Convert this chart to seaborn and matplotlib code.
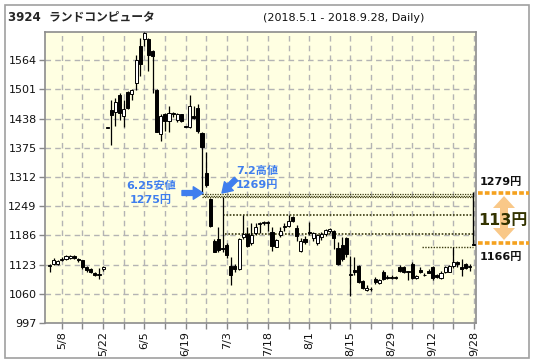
import matplotlib
matplotlib.use("Agg")
import matplotlib.pyplot as plt
import seaborn as sns
import numpy as np
import pandas as pd
from matplotlib.patches import Polygon, Rectangle
from matplotlib.lines import Line2D

# ---------------- data ----------------
holidays = ["2018-05-03", "2018-05-04", "2018-07-16", "2018-09-17", "2018-09-24"]
dates = pd.bdate_range("2018-05-01", "2018-09-28", freq="C", holidays=holidays)

opens = [1121, 1124, 1125, 1133, 1136, 1138, 1141, 1136, 1133, 1117, 1114, 1104, 1101, 1113,
         1418, 1456, 1452, 1490, 1444, 1496, 1491, 1516, 1594, 1610, 1609, 1584, 1500, 1405,
         1447, 1432, 1451, 1435, 1447, 1421, 1421, 1443, 1461, 1407, 1320, 1265, 1174, 1178,
         1158, 1165, 1120, 1120, 1114, 1182, 1190, 1169, 1192, 1211, 1212, 1214, 1193, 1162,
         1186, 1205, 1207, 1226, 1201, 1153, 1178, 1194, 1180, 1169, 1182, 1190, 1195, 1196,
         1159, 1165, 1180, 1100, 1112, 1120, 1088, 1068, 1070, 1093, 1084, 1107, 1097, 1097,
         1097, 1118, 1118, 1106, 1124, 1095, 1112, 1100, 1110, 1117, 1100, 1095, 1106, 1108,
         1119, 1128, 1118, 1124, 1118, 1167]
highs = [1124, 1138, 1134, 1140, 1144, 1143, 1143, 1137, 1134, 1119, 1115, 1106, 1115, 1120,
         1418, 1479, 1482, 1493, 1478, 1498, 1502, 1575, 1612, 1625, 1612, 1587, 1503, 1447,
         1450, 1465, 1453, 1450, 1449, 1423, 1489, 1466, 1470, 1410, 1366, 1267, 1178, 1205,
         1269, 1170, 1140, 1125, 1180, 1230, 1205, 1212, 1212, 1215, 1218, 1218, 1205, 1178,
         1205, 1212, 1230, 1228, 1209, 1181, 1184, 1214, 1194, 1190, 1194, 1200, 1202, 1198,
         1172, 1183, 1183, 1141, 1140, 1122, 1090, 1078, 1075, 1096, 1093, 1112, 1100, 1100,
         1099, 1122, 1120, 1110, 1128, 1100, 1118, 1105, 1114, 1120, 1102, 1110, 1120, 1122,
         1162, 1130, 1135, 1127, 1125, 1168]
lows = [1106, 1122, 1122, 1130, 1134, 1136, 1136, 1128, 1114, 1108, 1104, 1098, 1092, 1110,
        1418, 1381, 1422, 1436, 1421, 1458, 1478, 1500, 1530, 1595, 1540, 1494, 1409, 1390,
        1412, 1410, 1442, 1430, 1430, 1419, 1418, 1437, 1408, 1275, 1290, 1204, 1150, 1150,
        1150, 1138, 1080, 1108, 1112, 1178, 1160, 1166, 1186, 1192, 1208, 1196, 1152, 1160,
        1183, 1195, 1205, 1215, 1173, 1151, 1168, 1186, 1175, 1165, 1177, 1184, 1192, 1156,
        1122, 1130, 1140, 1055, 1100, 1084, 1070, 1065, 1066, 1082, 1082, 1090, 1093, 1091,
        1093, 1106, 1105, 1090, 1093, 1092, 1105, 1098, 1104, 1090, 1095, 1093, 1104, 1106,
        1115, 1118, 1099, 1113, 1110, 1165]
closes = [1122, 1133, 1131, 1136, 1141, 1142, 1138, 1133, 1117, 1112, 1107, 1100, 1103, 1118,
          1418, 1445, 1474, 1451, 1458, 1462, 1500, 1564, 1556, 1622, 1575, 1573, 1410, 1443,
          1432, 1450, 1449, 1447, 1432, 1420, 1466, 1440, 1412, 1377, 1295, 1206, 1151, 1154,
          1156, 1143, 1101, 1114, 1178, 1190, 1163, 1187, 1204, 1213, 1215, 1212, 1163, 1176,
          1195, 1207, 1218, 1218, 1184, 1175, 1172, 1192, 1191, 1187, 1190, 1197, 1200, 1180,
          1124, 1135, 1145, 1103, 1107, 1086, 1073, 1073, 1070, 1085, 1090, 1093, 1095, 1094,
          1094, 1109, 1108, 1110, 1095, 1099, 1107, 1100, 1105, 1095, 1097, 1105, 1118, 1120,
          1128, 1124, 1114, 1115, 1120, 1165]

tick_labels = ["5/8", "5/22", "6/5", "6/19", "7/3", "7/18", "8/1", "8/15", "8/29", "9/12", "9/28"]
y_ticks = [997, 1060, 1123, 1186, 1249, 1312, 1375, 1438, 1501, 1564]

gap_low_date, gap_low = "6.25", 1275
gap_high_date, gap_high = "7.2", 1269
other_gap_lines = [1230, 1190]
last_line = 1161
range_top, range_bottom = 1279, 1166
diff = range_top - range_bottom

df = pd.DataFrame({"date": dates, "open": opens, "high": highs, "low": lows, "close": closes})
df["i"] = np.arange(len(df))

# ---------------- style ----------------
sns.set_theme(style="white")
plt.rcParams["font.family"] = ["DejaVu Sans", "Noto Sans CJK JP"]

W, H = 535, 364
fig = plt.figure(figsize=(W / 100, H / 100), dpi=100)
fig.patch.set_facecolor("white")

def fx(x):
    return x / W

def fy(y):
    return 1 - y / H

ax = fig.add_axes([fx(45), fy(323), fx(476) - fx(45), fy(32) - fy(323)])
ax.set_facecolor("#FFFFE2")
ax.set_xlim(-1.1, 103.5)
ax.set_ylim(997, 1625)

# grid
grid_x = np.arange(3, 104, 5)
for gx in grid_x:
    ax.axvline(gx, color="#B4B4B4", lw=1, ls=(0, (4, 3)), zorder=1)
for gy in y_ticks[1:]:
    ax.axhline(gy, color="#B4B4B4", lw=1, ls=(0, (4, 3)), zorder=1)

# candles
up = df["close"] >= df["open"]
ax.vlines(df["i"], df["low"], df["high"], color="black", lw=0.9, zorder=3)
body_bottom = np.minimum(df["open"], df["close"])
body_h = np.maximum(np.abs(df["close"] - df["open"]), 1.2)
ax.bar(df["i"], body_h, bottom=body_bottom, width=0.75,
       color=np.where(up, "white", "black"), edgecolor="black", linewidth=0.7, zorder=4)

# gap band and lines
x_end = 102.8
band_col = "#3a3a10"
for yy, off in ((gap_low, 0), (gap_high + (gap_low - gap_high) / 2, 1), (gap_high, 0)):
    ax.hlines(yy, 37, x_end, color=band_col, lw=0.9, ls=(off, (1, 1)), zorder=2)
ax.hlines(other_gap_lines[0], 42, x_end, color=band_col, lw=1.2, ls=(0, (1, 1)), zorder=2)
ax.hlines(other_gap_lines[1], 42.5, x_end, color=band_col, lw=1.2, ls=(0, (1, 1)), zorder=2)
ax.hlines(last_line, 90.5, x_end, color=band_col, lw=1, ls=(0, (1, 1)), zorder=2)
ax.vlines(x_end, range_bottom, range_top, color="black", lw=1, zorder=5)

# axes decorations
ax.set_yticks(y_ticks)
ax.set_yticklabels([str(v) for v in y_ticks], fontsize=8, color="#111111")
ax.set_xticks(grid_x)
labels = []
k = 0
for j, gx in enumerate(grid_x):
    if j % 2 == 0:
        labels.append(tick_labels[k]); k += 1
    else:
        labels.append("")
ax.set_xticklabels(labels, rotation=90, fontsize=8, color="#111111")
ax.tick_params(axis="both", which="both", direction="out", length=4, width=1,
               color="#888888", left=True, bottom=True, pad=2)
for s in ax.spines.values():
    s.set_color("#8C8C8C")
    s.set_linewidth(1.2)
ax.set_xlabel("")
ax.set_ylabel("")

# title
cjk = ["DejaVu Sans", "Noto Sans CJK JP"]
fig.text(fx(8), fy(17), "3924  ランドコンピュータ", fontsize=8.5, fontweight="bold",
         va="center", ha="left", family=cjk)
fig.text(fx(263), fy(18), "(2018.5.1 - 2018.9.28, Daily)", fontsize=8,
         va="center", ha="left", color="#111111")

# blue annotations
blue = "#3F7EEE"
fig.text(fx(151), fy(186), f"{gap_low_date}安値", color=blue, fontsize=8, fontweight="bold",
         ha="center", va="center", family=cjk)
fig.text(fx(151), fy(200), f"{gap_low}円", color=blue, fontsize=8, fontweight="bold",
         ha="center", va="center", family=cjk)
fig.text(fx(257), fy(171), f"{gap_high_date}高値", color=blue, fontsize=8, fontweight="bold",
         ha="center", va="center", family=cjk)
fig.text(fx(257), fy(185), f"{gap_high}円", color=blue, fontsize=8, fontweight="bold",
         ha="center", va="center", family=cjk)
ax.annotate("", xy=(203, H - 193), xytext=(182, H - 193), xycoords="figure pixels",
            textcoords="figure pixels",
            arrowprops=dict(arrowstyle="simple,head_length=0.7,head_width=0.9,tail_width=0.35",
                            color=blue, mutation_scale=10, shrinkA=0, shrinkB=0))
ax.annotate("", xy=(222, H - 193), xytext=(236, H - 179), xycoords="figure pixels",
            textcoords="figure pixels",
            arrowprops=dict(arrowstyle="simple,head_length=0.7,head_width=0.9,tail_width=0.35",
                            color=blue, mutation_scale=10, shrinkA=0, shrinkB=0))

# right panel
orange = "#F5A11E"
fig.text(fx(480), fy(182), f"{range_top}円", fontsize=8, fontweight="bold", ha="left",
         va="center", color="#111111", family=cjk)
fig.text(fx(480), fy(257), f"{range_bottom}円", fontsize=8, fontweight="bold", ha="left",
         va="center", color="#111111", family=cjk)
for yy in (192.5, 242.5):
    fig.add_artist(Line2D([fx(478), fx(529)], [fy(yy), fy(yy)], color=orange, lw=2.6,
                          ls=(0, (1.3, 0.6)), transform=fig.transFigure))
arrow_px = [(504, 196), (515, 208), (508, 208), (508, 228), (515, 228), (504, 240),
            (493, 228), (500, 228), (500, 208), (493, 208)]
fig.add_artist(Polygon([(fx(a), fy(b)) for a, b in arrow_px], closed=True,
                       facecolor="#F9C888", edgecolor="none", transform=fig.transFigure))
fig.text(fx(503), fy(220), f"{diff}円", fontsize=11.5, fontweight="bold", ha="center",
         va="center", color="#333300", family=cjk)

# outer border
fig.add_artist(Rectangle((fx(5), fy(358)), fx(529) - fx(5), fy(5) - fy(358), fill=False,
                         edgecolor="#A0A0A0", lw=1.2, transform=fig.transFigure))

fig.savefig("out.png", dpi=100, facecolor="white")
